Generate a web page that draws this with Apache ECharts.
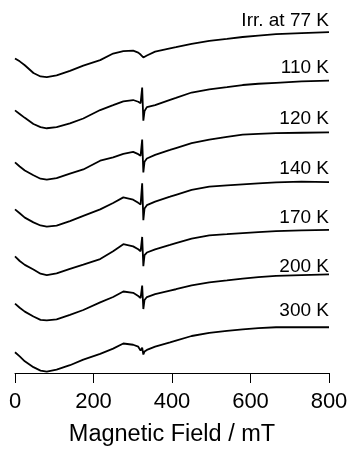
<!DOCTYPE html>
<html>
<head>
<meta charset="utf-8">
<script src="https://cdn.jsdelivr.net/npm/echarts@6/dist/echarts.min.js"></script>
<style>
  html, body { margin: 0; padding: 0; background: #fff; }
  #chart { width: 352px; height: 452px; }
</style>
</head>
<body>
<div id="chart"></div>
<script>
// magnetic field (mT) sample points, shared by every trace
const fields = [0, 12, 25, 47, 65, 81, 106, 140, 174, 217, 250, 276, 301, 314, 320,
  324, 327, 330, 336, 357, 395, 410, 450, 495, 540, 580, 620, 665, 730, 800];

// ESR intensity (a.u., stacked with offsets as in the figure)
const irr77 = [323, 320, 316, 308, 304.5, 303.7, 305.7, 310.3, 315.7, 321.3, 328, 330.5, 331, 329, 327,
  325, 324, 324.5, 326, 330, 333.3, 334.5, 338, 341, 343, 345, 346.5, 348, 349, 350];
const k110 = [269.7, 266, 262, 255.7, 252.5, 251.3, 252.5, 256.3, 261.3, 270, 275, 279, 280.3, 278.5, 277,
  293, 259, 269, 273, 275, 280.5, 282.5, 288, 291.3, 293.5, 295.7, 297, 298, 299.5, 300.3];
const k120 = [216.3, 212, 208, 203, 199.5, 198.5, 200, 204.7, 209, 218, 221.5, 225, 227, 224.7, 223,
  239.7, 206, 217, 220.3, 224, 229, 231, 236, 239.7, 242.5, 244.7, 245.5, 246.3, 246.7, 247];
const k140 = [168, 164, 159.5, 154.7, 151.5, 150.3, 151.3, 156, 161.3, 168, 174.5, 180.3, 178, 174.7, 173,
  194.7, 157, 169, 172.3, 176, 181, 183, 188, 191.3, 192.7, 193.7, 194.7, 195.7, 196.5, 196];
const k170 = [119.7, 115, 111, 106.3, 102, 100.5, 102.3, 107, 111.3, 117, 125, 132.3, 130, 127, 125,
  139.7, 109.7, 121, 123.7, 127, 131.5, 133.3, 138, 141.3, 142.5, 143.7, 144.7, 145.7, 146.5, 147];
const k200 = [71.3, 67, 63, 58, 54.5, 54, 55, 59.7, 64.7, 72.5, 78, 83.7, 82.3, 79, 77,
  89.7, 65.7, 75, 78, 81, 84.7, 86, 90, 93, 95, 97, 98.5, 99.7, 100.5, 101.3];
const k300 = [21.3, 17, 12, 6, 2.5, 1.3, 3.5, 8, 13.7, 19.7, 25, 30.3, 29, 27, 23,
  26, 19, 22, 23.7, 27, 31.5, 33.3, 38, 41.3, 43.2, 44.7, 46, 47, 47, 47];

const traceNames = ['Irr. at 77 K', '110 K', '120 K', '140 K', '170 K', '200 K', '300 K'];
const traces = [irr77, k110, k120, k140, k170, k200, k300];
const xTicks = [0, 200, 400, 600, 800];

// how far each name sits above the end of its trace (px)
const labelLift = [11.5, 12.7, 13.5, 13.5, 12.5, 7.7, 16.5];

const font = '"Liberation Sans", Arial, Helvetica, sans-serif';

const chart = echarts.init(document.getElementById('chart'), null, { renderer: 'canvas' });

chart.setOption({
  animation: false,
  backgroundColor: '#ffffff',
  grid: { left: 15, right: 23, top: 0, bottom: 69, containLabel: false },
  xAxis: {
    type: 'value',
    min: xTicks[0],
    max: xTicks[xTicks.length - 1],
    interval: 200,
    name: 'Magnetic Field / mT',
    nameLocation: 'middle',
    nameGap: 50,
    nameTextStyle: { color: '#000', fontSize: 23.5, fontFamily: font },
    axisLine: { show: true, lineStyle: { color: '#000', width: 1 } },
    axisTick: { show: true, inside: false, length: 10, lineStyle: { color: '#000', width: 1 } },
    axisLabel: { color: '#000', fontSize: 22, fontFamily: font, margin: 18 },
    splitLine: { show: false }
  },
  yAxis: {
    type: 'value',
    min: 0,
    max: 383,
    show: false
  },
  series: traces.map((vals, i) => ({
    type: 'line',
    name: traceNames[i],
    data: fields.map((f, j) => [f, vals[j]]),
    showSymbol: false,
    symbol: 'none',
    clip: false,
    lineStyle: { color: '#000', width: 1.8 },
    endLabel: {
      show: true,
      formatter: '{a}',
      align: 'right',
      verticalAlign: 'middle',
      distance: 0,
      offset: [0, -labelLift[i]],
      color: '#000',
      fontSize: 19,
      fontFamily: font
    }
  }))
});
</script>
</body>
</html>
